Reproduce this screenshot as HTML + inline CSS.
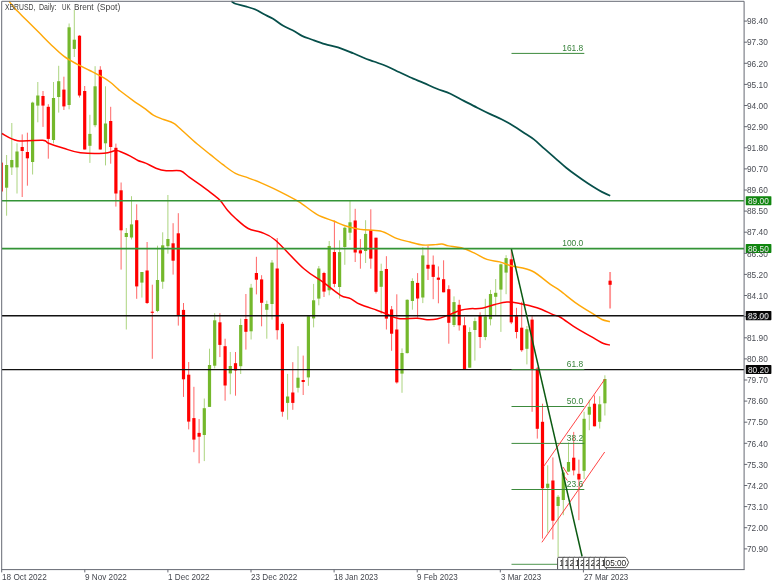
<!DOCTYPE html>
<html><head><meta charset="utf-8"><title>XBRUSD</title>
<style>
html,body{margin:0;padding:0;background:#fff;}
body{will-change:transform;width:780px;height:585px;position:relative;overflow:hidden;font-family:"Liberation Sans",sans-serif;}
svg{position:absolute;left:0;top:0;font-family:"Liberation Sans",sans-serif;}
.t{position:absolute;white-space:nowrap;font-size:8.7px;line-height:10px;color:#3a3c44;}
.yl{left:747.3px;transform:scaleX(0.955);transform-origin:0 0;color:#4a4d55;}
.fb{color:#37823a;font-size:9.3px;transform:scaleX(0.905);transform-origin:100% 0;}
.box{position:absolute;left:745.7px;width:25.7px;height:9px;border-radius:0.6px;}
.box span{position:absolute;left:2.4px;top:0.1px;color:#eaeaea;font-size:8.7px;line-height:10px;white-space:nowrap;transform:scaleX(0.955);transform-origin:0 0;}
</style></head><body>
<svg width="780" height="585" viewBox="0 0 780 585">
<defs><clipPath id="cl"><rect x="2.2" y="1.8" width="741.4" height="567.3"/></clipPath></defs>
<g clip-path="url(#cl)">
<line x1="1.4" y1="162.6" x2="1.4" y2="191.5" stroke="#ff0000" stroke-width="1" stroke-opacity="0.6"/>
<rect x="-0.2" y="162.6" width="3.2" height="28.9" fill="#ff0000"/>
<line x1="6.6" y1="155" x2="6.6" y2="215.7" stroke="#74b82c" stroke-width="1" stroke-opacity="0.6"/>
<rect x="5.0" y="165" width="3.2" height="22.7" fill="#74b82c"/>
<line x1="11.8" y1="123" x2="11.8" y2="175" stroke="#74b82c" stroke-width="1" stroke-opacity="0.6"/>
<rect x="10.2" y="160" width="3.2" height="7.4" fill="#74b82c"/>
<line x1="17.0" y1="143.3" x2="17.0" y2="193.5" stroke="#74b82c" stroke-width="1" stroke-opacity="0.6"/>
<rect x="15.4" y="151.5" width="3.2" height="15.9" fill="#74b82c"/>
<line x1="22.2" y1="134.4" x2="22.2" y2="197" stroke="#ff0000" stroke-width="1" stroke-opacity="0.6"/>
<rect x="20.6" y="147" width="3.2" height="4.0" fill="#ff0000"/>
<line x1="27.4" y1="132.7" x2="27.4" y2="185.7" stroke="#ff0000" stroke-width="1" stroke-opacity="0.6"/>
<rect x="25.8" y="152" width="3.2" height="6.3" fill="#ff0000"/>
<line x1="32.6" y1="101.7" x2="32.6" y2="174.5" stroke="#74b82c" stroke-width="1" stroke-opacity="0.6"/>
<rect x="31.0" y="102.6" width="3.2" height="59.4" fill="#74b82c"/>
<line x1="37.8" y1="82" x2="37.8" y2="122.3" stroke="#74b82c" stroke-width="1" stroke-opacity="0.6"/>
<rect x="36.2" y="95.5" width="3.2" height="10.1" fill="#74b82c"/>
<line x1="43.0" y1="91" x2="43.0" y2="126.9" stroke="#ff0000" stroke-width="1" stroke-opacity="0.6"/>
<rect x="41.4" y="96" width="3.2" height="9.6" fill="#ff0000"/>
<line x1="48.3" y1="104.2" x2="48.3" y2="158.7" stroke="#ff0000" stroke-width="1" stroke-opacity="0.6"/>
<rect x="46.7" y="106.8" width="3.2" height="32.1" fill="#ff0000"/>
<line x1="53.5" y1="82" x2="53.5" y2="143.3" stroke="#74b82c" stroke-width="1" stroke-opacity="0.6"/>
<rect x="51.9" y="98" width="3.2" height="42.0" fill="#74b82c"/>
<line x1="58.7" y1="65.8" x2="58.7" y2="112.6" stroke="#74b82c" stroke-width="1" stroke-opacity="0.6"/>
<rect x="57.1" y="81.2" width="3.2" height="15.8" fill="#74b82c"/>
<line x1="63.9" y1="76.7" x2="63.9" y2="110" stroke="#ff0000" stroke-width="1" stroke-opacity="0.6"/>
<rect x="62.3" y="89.6" width="3.2" height="16.8" fill="#ff0000"/>
<line x1="69.1" y1="23.5" x2="69.1" y2="109.3" stroke="#74b82c" stroke-width="1" stroke-opacity="0.6"/>
<rect x="67.5" y="27.3" width="3.2" height="77.7" fill="#74b82c"/>
<line x1="74.3" y1="10" x2="74.3" y2="57" stroke="#74b82c" stroke-width="1" stroke-opacity="0.6"/>
<rect x="72.7" y="39.7" width="3.2" height="9.2" fill="#74b82c"/>
<line x1="79.5" y1="35.2" x2="79.5" y2="97.5" stroke="#ff0000" stroke-width="1" stroke-opacity="0.6"/>
<rect x="77.9" y="35.7" width="3.2" height="59.8" fill="#ff0000"/>
<line x1="84.7" y1="86" x2="84.7" y2="149.5" stroke="#ff0000" stroke-width="1" stroke-opacity="0.6"/>
<rect x="83.1" y="91" width="3.2" height="58.5" fill="#ff0000"/>
<line x1="89.9" y1="114.8" x2="89.9" y2="162.9" stroke="#74b82c" stroke-width="1" stroke-opacity="0.6"/>
<rect x="88.3" y="133.9" width="3.2" height="11.9" fill="#74b82c"/>
<line x1="95.1" y1="66.2" x2="95.1" y2="127.2" stroke="#74b82c" stroke-width="1" stroke-opacity="0.6"/>
<rect x="93.5" y="86.3" width="3.2" height="38.9" fill="#74b82c"/>
<line x1="100.3" y1="66.2" x2="100.3" y2="149.5" stroke="#ff0000" stroke-width="1" stroke-opacity="0.6"/>
<rect x="98.7" y="69.8" width="3.2" height="79.7" fill="#ff0000"/>
<line x1="105.5" y1="86.3" x2="105.5" y2="165.4" stroke="#74b82c" stroke-width="1" stroke-opacity="0.6"/>
<rect x="103.9" y="123.5" width="3.2" height="19.8" fill="#74b82c"/>
<line x1="110.7" y1="106.8" x2="110.7" y2="163.7" stroke="#ff0000" stroke-width="1" stroke-opacity="0.6"/>
<rect x="109.1" y="121" width="3.2" height="26.0" fill="#ff0000"/>
<line x1="115.9" y1="143.6" x2="115.9" y2="206.6" stroke="#ff0000" stroke-width="1" stroke-opacity="0.6"/>
<rect x="114.3" y="147.8" width="3.2" height="45.7" fill="#ff0000"/>
<line x1="121.1" y1="182.5" x2="121.1" y2="269.6" stroke="#ff0000" stroke-width="1" stroke-opacity="0.6"/>
<rect x="119.5" y="190.3" width="3.2" height="40.0" fill="#ff0000"/>
<line x1="126.3" y1="228" x2="126.3" y2="329.5" stroke="#74b82c" stroke-width="1" stroke-opacity="0.6"/>
<rect x="124.7" y="233" width="3.2" height="4.0" fill="#74b82c"/>
<line x1="131.5" y1="196.2" x2="131.5" y2="239.5" stroke="#74b82c" stroke-width="1" stroke-opacity="0.6"/>
<rect x="129.9" y="224.4" width="3.2" height="13.1" fill="#74b82c"/>
<line x1="136.7" y1="204.3" x2="136.7" y2="298.8" stroke="#ff0000" stroke-width="1" stroke-opacity="0.6"/>
<rect x="135.1" y="220.2" width="3.2" height="66.2" fill="#ff0000"/>
<line x1="141.9" y1="272" x2="141.9" y2="297.6" stroke="#74b82c" stroke-width="1" stroke-opacity="0.6"/>
<rect x="140.3" y="272" width="3.2" height="10.6" fill="#74b82c"/>
<line x1="147.1" y1="242" x2="147.1" y2="304" stroke="#ff0000" stroke-width="1" stroke-opacity="0.6"/>
<rect x="145.5" y="270.5" width="3.2" height="32.5" fill="#ff0000"/>
<line x1="152.3" y1="284.7" x2="152.3" y2="358.8" stroke="#ff0000" stroke-width="1" stroke-opacity="0.6"/>
<rect x="150.7" y="311.7" width="3.2" height="1.1" fill="#ff0000"/>
<line x1="157.5" y1="245.7" x2="157.5" y2="312.2" stroke="#74b82c" stroke-width="1" stroke-opacity="0.6"/>
<rect x="155.9" y="280" width="3.2" height="31.0" fill="#74b82c"/>
<line x1="162.7" y1="232.3" x2="162.7" y2="288.8" stroke="#74b82c" stroke-width="1" stroke-opacity="0.6"/>
<rect x="161.1" y="245.3" width="3.2" height="36.4" fill="#74b82c"/>
<line x1="167.9" y1="195" x2="167.9" y2="253.7" stroke="#74b82c" stroke-width="1" stroke-opacity="0.6"/>
<rect x="166.3" y="239" width="3.2" height="7.2" fill="#74b82c"/>
<line x1="173.1" y1="223.2" x2="173.1" y2="274.6" stroke="#ff0000" stroke-width="1" stroke-opacity="0.6"/>
<rect x="171.5" y="243.3" width="3.2" height="17.4" fill="#ff0000"/>
<line x1="178.3" y1="213.2" x2="178.3" y2="325.6" stroke="#ff0000" stroke-width="1" stroke-opacity="0.6"/>
<rect x="176.7" y="233.3" width="3.2" height="81.9" fill="#ff0000"/>
<line x1="183.5" y1="303" x2="183.5" y2="396.9" stroke="#ff0000" stroke-width="1" stroke-opacity="0.6"/>
<rect x="181.9" y="309.9" width="3.2" height="69.4" fill="#ff0000"/>
<line x1="188.7" y1="362" x2="188.7" y2="429.4" stroke="#ff0000" stroke-width="1" stroke-opacity="0.6"/>
<rect x="187.1" y="374.7" width="3.2" height="46.9" fill="#ff0000"/>
<line x1="193.9" y1="386.8" x2="193.9" y2="452.2" stroke="#ff0000" stroke-width="1" stroke-opacity="0.6"/>
<rect x="192.3" y="418.1" width="3.2" height="21.5" fill="#ff0000"/>
<line x1="199.1" y1="419" x2="199.1" y2="463.3" stroke="#ff0000" stroke-width="1" stroke-opacity="0.6"/>
<rect x="197.5" y="432.9" width="3.2" height="3.8" fill="#ff0000"/>
<line x1="204.3" y1="398.5" x2="204.3" y2="461.1" stroke="#74b82c" stroke-width="1" stroke-opacity="0.6"/>
<rect x="202.7" y="408.2" width="3.2" height="26.8" fill="#74b82c"/>
<line x1="209.5" y1="348.7" x2="209.5" y2="407" stroke="#74b82c" stroke-width="1" stroke-opacity="0.6"/>
<rect x="207.9" y="365" width="3.2" height="41.9" fill="#74b82c"/>
<line x1="214.7" y1="313.2" x2="214.7" y2="368.4" stroke="#74b82c" stroke-width="1" stroke-opacity="0.6"/>
<rect x="213.1" y="320.3" width="3.2" height="45.4" fill="#74b82c"/>
<line x1="219.9" y1="313.2" x2="219.9" y2="357.1" stroke="#ff0000" stroke-width="1" stroke-opacity="0.6"/>
<rect x="218.3" y="322.3" width="3.2" height="22.6" fill="#ff0000"/>
<line x1="225.1" y1="338.7" x2="225.1" y2="400.7" stroke="#ff0000" stroke-width="1" stroke-opacity="0.6"/>
<rect x="223.5" y="346.2" width="3.2" height="39.3" fill="#ff0000"/>
<line x1="230.3" y1="352" x2="230.3" y2="394.3" stroke="#74b82c" stroke-width="1" stroke-opacity="0.6"/>
<rect x="228.7" y="366" width="3.2" height="7.4" fill="#74b82c"/>
<line x1="235.5" y1="352" x2="235.5" y2="395.7" stroke="#ff0000" stroke-width="1" stroke-opacity="0.6"/>
<rect x="233.9" y="363.2" width="3.2" height="7.2" fill="#ff0000"/>
<line x1="240.7" y1="318.6" x2="240.7" y2="374" stroke="#74b82c" stroke-width="1" stroke-opacity="0.6"/>
<rect x="239.1" y="325" width="3.2" height="41.2" fill="#74b82c"/>
<line x1="245.9" y1="294" x2="245.9" y2="349.6" stroke="#ff0000" stroke-width="1" stroke-opacity="0.6"/>
<rect x="244.3" y="319" width="3.2" height="12.8" fill="#ff0000"/>
<line x1="251.1" y1="283.9" x2="251.1" y2="339.5" stroke="#74b82c" stroke-width="1" stroke-opacity="0.6"/>
<rect x="249.5" y="287.7" width="3.2" height="43.6" fill="#74b82c"/>
<line x1="256.4" y1="256.8" x2="256.4" y2="294.4" stroke="#ff0000" stroke-width="1" stroke-opacity="0.6"/>
<rect x="254.8" y="273" width="3.2" height="6.7" fill="#ff0000"/>
<line x1="261.6" y1="275.2" x2="261.6" y2="326.3" stroke="#ff0000" stroke-width="1" stroke-opacity="0.6"/>
<rect x="260.0" y="279.4" width="3.2" height="23.4" fill="#ff0000"/>
<line x1="266.8" y1="300.6" x2="266.8" y2="338.7" stroke="#74b82c" stroke-width="1" stroke-opacity="0.6"/>
<rect x="265.2" y="304" width="3.2" height="5.8" fill="#74b82c"/>
<line x1="272.0" y1="260.1" x2="272.0" y2="319.6" stroke="#74b82c" stroke-width="1" stroke-opacity="0.6"/>
<rect x="270.4" y="262.6" width="3.2" height="41.4" fill="#74b82c"/>
<line x1="277.2" y1="238" x2="277.2" y2="339.5" stroke="#ff0000" stroke-width="1" stroke-opacity="0.6"/>
<rect x="275.6" y="268.5" width="3.2" height="61.7" fill="#ff0000"/>
<line x1="282.4" y1="322" x2="282.4" y2="416.7" stroke="#ff0000" stroke-width="1" stroke-opacity="0.6"/>
<rect x="280.8" y="323.8" width="3.2" height="87.9" fill="#ff0000"/>
<line x1="287.6" y1="373.9" x2="287.6" y2="419.7" stroke="#74b82c" stroke-width="1" stroke-opacity="0.6"/>
<rect x="286.0" y="396.5" width="3.2" height="6.4" fill="#74b82c"/>
<line x1="292.8" y1="362.2" x2="292.8" y2="409.8" stroke="#ff0000" stroke-width="1" stroke-opacity="0.6"/>
<rect x="291.2" y="392.5" width="3.2" height="10.4" fill="#ff0000"/>
<line x1="298.0" y1="346.2" x2="298.0" y2="392.5" stroke="#74b82c" stroke-width="1" stroke-opacity="0.6"/>
<rect x="296.4" y="377.7" width="3.2" height="10.1" fill="#74b82c"/>
<line x1="303.2" y1="355.6" x2="303.2" y2="395" stroke="#ff0000" stroke-width="1" stroke-opacity="0.6"/>
<rect x="301.6" y="380" width="3.2" height="2.0" fill="#ff0000"/>
<line x1="308.4" y1="316.2" x2="308.4" y2="385.8" stroke="#74b82c" stroke-width="1" stroke-opacity="0.6"/>
<rect x="306.8" y="316.2" width="3.2" height="61.2" fill="#74b82c"/>
<line x1="313.6" y1="283.9" x2="313.6" y2="327.4" stroke="#74b82c" stroke-width="1" stroke-opacity="0.6"/>
<rect x="312.0" y="300.3" width="3.2" height="18.1" fill="#74b82c"/>
<line x1="318.8" y1="266" x2="318.8" y2="305.3" stroke="#74b82c" stroke-width="1" stroke-opacity="0.6"/>
<rect x="317.2" y="268.5" width="3.2" height="30.1" fill="#74b82c"/>
<line x1="324.0" y1="271.8" x2="324.0" y2="297" stroke="#ff0000" stroke-width="1" stroke-opacity="0.6"/>
<rect x="322.4" y="273" width="3.2" height="18.6" fill="#ff0000"/>
<line x1="329.2" y1="241" x2="329.2" y2="295.3" stroke="#74b82c" stroke-width="1" stroke-opacity="0.6"/>
<rect x="327.6" y="246" width="3.2" height="44.3" fill="#74b82c"/>
<line x1="334.4" y1="220.5" x2="334.4" y2="287.2" stroke="#ff0000" stroke-width="1" stroke-opacity="0.6"/>
<rect x="332.8" y="252" width="3.2" height="31.9" fill="#ff0000"/>
<line x1="339.6" y1="240.3" x2="339.6" y2="298.6" stroke="#74b82c" stroke-width="1" stroke-opacity="0.6"/>
<rect x="338.0" y="252.1" width="3.2" height="34.9" fill="#74b82c"/>
<line x1="344.8" y1="226.5" x2="344.8" y2="264.8" stroke="#74b82c" stroke-width="1" stroke-opacity="0.6"/>
<rect x="343.2" y="227.7" width="3.2" height="19.3" fill="#74b82c"/>
<line x1="350.0" y1="200.9" x2="350.0" y2="240" stroke="#74b82c" stroke-width="1" stroke-opacity="0.6"/>
<rect x="348.4" y="222.3" width="3.2" height="10.4" fill="#74b82c"/>
<line x1="355.2" y1="208.8" x2="355.2" y2="262" stroke="#ff0000" stroke-width="1" stroke-opacity="0.6"/>
<rect x="353.6" y="220.5" width="3.2" height="32.0" fill="#ff0000"/>
<line x1="360.4" y1="239.1" x2="360.4" y2="268.7" stroke="#ff0000" stroke-width="1" stroke-opacity="0.6"/>
<rect x="358.8" y="250.3" width="3.2" height="3.1" fill="#ff0000"/>
<line x1="365.6" y1="220.2" x2="365.6" y2="263" stroke="#74b82c" stroke-width="1" stroke-opacity="0.6"/>
<rect x="364.0" y="233.9" width="3.2" height="17.1" fill="#74b82c"/>
<line x1="370.8" y1="209.3" x2="370.8" y2="268.7" stroke="#ff0000" stroke-width="1" stroke-opacity="0.6"/>
<rect x="369.2" y="230.2" width="3.2" height="28.4" fill="#ff0000"/>
<line x1="376.0" y1="237.7" x2="376.0" y2="293.5" stroke="#ff0000" stroke-width="1" stroke-opacity="0.6"/>
<rect x="374.4" y="237.7" width="3.2" height="54.1" fill="#ff0000"/>
<line x1="381.2" y1="263.7" x2="381.2" y2="313.9" stroke="#74b82c" stroke-width="1" stroke-opacity="0.6"/>
<rect x="379.6" y="270.9" width="3.2" height="15.9" fill="#74b82c"/>
<line x1="386.4" y1="256.2" x2="386.4" y2="329.5" stroke="#ff0000" stroke-width="1" stroke-opacity="0.6"/>
<rect x="384.8" y="269" width="3.2" height="49.6" fill="#ff0000"/>
<line x1="391.6" y1="306" x2="391.6" y2="350.8" stroke="#ff0000" stroke-width="1" stroke-opacity="0.6"/>
<rect x="390.0" y="309.4" width="3.2" height="24.3" fill="#ff0000"/>
<line x1="396.8" y1="294.3" x2="396.8" y2="383.6" stroke="#ff0000" stroke-width="1" stroke-opacity="0.6"/>
<rect x="395.2" y="329.5" width="3.2" height="52.9" fill="#ff0000"/>
<line x1="402.0" y1="348.4" x2="402.0" y2="392.8" stroke="#74b82c" stroke-width="1" stroke-opacity="0.6"/>
<rect x="400.4" y="353" width="3.2" height="20.6" fill="#74b82c"/>
<line x1="407.2" y1="299.3" x2="407.2" y2="353.5" stroke="#74b82c" stroke-width="1" stroke-opacity="0.6"/>
<rect x="405.6" y="299.8" width="3.2" height="53.3" fill="#74b82c"/>
<line x1="412.4" y1="278.3" x2="412.4" y2="309.7" stroke="#74b82c" stroke-width="1" stroke-opacity="0.6"/>
<rect x="410.8" y="281" width="3.2" height="20.0" fill="#74b82c"/>
<line x1="417.6" y1="273.1" x2="417.6" y2="317.7" stroke="#ff0000" stroke-width="1" stroke-opacity="0.6"/>
<rect x="416.0" y="282.9" width="3.2" height="15.6" fill="#ff0000"/>
<line x1="422.8" y1="247.1" x2="422.8" y2="303.1" stroke="#74b82c" stroke-width="1" stroke-opacity="0.6"/>
<rect x="421.2" y="255.4" width="3.2" height="42.1" fill="#74b82c"/>
<line x1="428.0" y1="246" x2="428.0" y2="280" stroke="#ff0000" stroke-width="1" stroke-opacity="0.6"/>
<rect x="426.4" y="264.8" width="3.2" height="3.9" fill="#ff0000"/>
<line x1="433.2" y1="255.5" x2="433.2" y2="299.2" stroke="#ff0000" stroke-width="1" stroke-opacity="0.6"/>
<rect x="431.6" y="264.7" width="3.2" height="12.2" fill="#ff0000"/>
<line x1="438.4" y1="266.4" x2="438.4" y2="303.3" stroke="#ff0000" stroke-width="1" stroke-opacity="0.6"/>
<rect x="436.8" y="277.6" width="3.2" height="2.2" fill="#ff0000"/>
<line x1="443.6" y1="260.3" x2="443.6" y2="292.3" stroke="#ff0000" stroke-width="1" stroke-opacity="0.6"/>
<rect x="442.0" y="279.2" width="3.2" height="13.1" fill="#ff0000"/>
<line x1="448.8" y1="285.3" x2="448.8" y2="343.7" stroke="#ff0000" stroke-width="1" stroke-opacity="0.6"/>
<rect x="447.2" y="289.2" width="3.2" height="33.6" fill="#ff0000"/>
<line x1="454.0" y1="296.4" x2="454.0" y2="327" stroke="#74b82c" stroke-width="1" stroke-opacity="0.6"/>
<rect x="452.4" y="302.1" width="3.2" height="22.9" fill="#74b82c"/>
<line x1="459.2" y1="299.8" x2="459.2" y2="330.6" stroke="#ff0000" stroke-width="1" stroke-opacity="0.6"/>
<rect x="457.6" y="304.8" width="3.2" height="20.5" fill="#ff0000"/>
<line x1="464.5" y1="316.9" x2="464.5" y2="369.7" stroke="#ff0000" stroke-width="1" stroke-opacity="0.6"/>
<rect x="462.9" y="325.3" width="3.2" height="44.4" fill="#ff0000"/>
<line x1="469.7" y1="327.3" x2="469.7" y2="367.7" stroke="#74b82c" stroke-width="1" stroke-opacity="0.6"/>
<rect x="468.1" y="332" width="3.2" height="35.7" fill="#74b82c"/>
<line x1="474.9" y1="317.6" x2="474.9" y2="360.6" stroke="#74b82c" stroke-width="1" stroke-opacity="0.6"/>
<rect x="473.3" y="321.1" width="3.2" height="8.9" fill="#74b82c"/>
<line x1="480.1" y1="312.3" x2="480.1" y2="348.1" stroke="#ff0000" stroke-width="1" stroke-opacity="0.6"/>
<rect x="478.5" y="316" width="3.2" height="21.0" fill="#ff0000"/>
<line x1="485.3" y1="298.8" x2="485.3" y2="340.2" stroke="#74b82c" stroke-width="1" stroke-opacity="0.6"/>
<rect x="483.7" y="316.4" width="3.2" height="20.6" fill="#74b82c"/>
<line x1="490.5" y1="289.9" x2="490.5" y2="325.4" stroke="#74b82c" stroke-width="1" stroke-opacity="0.6"/>
<rect x="488.9" y="294" width="3.2" height="25.2" fill="#74b82c"/>
<line x1="495.7" y1="279" x2="495.7" y2="315.4" stroke="#74b82c" stroke-width="1" stroke-opacity="0.6"/>
<rect x="494.1" y="292.8" width="3.2" height="4.0" fill="#74b82c"/>
<line x1="500.9" y1="263.5" x2="500.9" y2="331.9" stroke="#74b82c" stroke-width="1" stroke-opacity="0.6"/>
<rect x="499.3" y="264.3" width="3.2" height="25.3" fill="#74b82c"/>
<line x1="506.1" y1="255.2" x2="506.1" y2="294.2" stroke="#74b82c" stroke-width="1" stroke-opacity="0.6"/>
<rect x="504.5" y="258.1" width="3.2" height="14.5" fill="#74b82c"/>
<line x1="511.3" y1="250" x2="511.3" y2="324.1" stroke="#ff0000" stroke-width="1" stroke-opacity="0.6"/>
<rect x="509.7" y="259.3" width="3.2" height="63.1" fill="#ff0000"/>
<line x1="516.5" y1="307.8" x2="516.5" y2="338.4" stroke="#ff0000" stroke-width="1" stroke-opacity="0.6"/>
<rect x="514.9" y="316.2" width="3.2" height="15.8" fill="#ff0000"/>
<line x1="521.7" y1="301.8" x2="521.7" y2="351.8" stroke="#ff0000" stroke-width="1" stroke-opacity="0.6"/>
<rect x="520.1" y="327.7" width="3.2" height="22.5" fill="#ff0000"/>
<line x1="526.9" y1="326" x2="526.9" y2="364.4" stroke="#74b82c" stroke-width="1" stroke-opacity="0.6"/>
<rect x="525.3" y="329.2" width="3.2" height="19.6" fill="#74b82c"/>
<line x1="532.1" y1="316.2" x2="532.1" y2="411.8" stroke="#ff0000" stroke-width="1" stroke-opacity="0.6"/>
<rect x="530.5" y="319.6" width="3.2" height="49.8" fill="#ff0000"/>
<line x1="537.3" y1="366.9" x2="537.3" y2="438.6" stroke="#ff0000" stroke-width="1" stroke-opacity="0.6"/>
<rect x="535.7" y="368.6" width="3.2" height="60.2" fill="#ff0000"/>
<line x1="542.5" y1="403.7" x2="542.5" y2="538.6" stroke="#ff0000" stroke-width="1" stroke-opacity="0.6"/>
<rect x="540.9" y="421.8" width="3.2" height="66.5" fill="#ff0000"/>
<line x1="547.7" y1="465.3" x2="547.7" y2="532.8" stroke="#74b82c" stroke-width="1" stroke-opacity="0.6"/>
<rect x="546.1" y="483.7" width="3.2" height="4.2" fill="#74b82c"/>
<line x1="552.9" y1="457.4" x2="552.9" y2="539.5" stroke="#ff0000" stroke-width="1" stroke-opacity="0.6"/>
<rect x="551.3" y="480.5" width="3.2" height="40.2" fill="#ff0000"/>
<line x1="558.1" y1="495" x2="558.1" y2="557" stroke="#74b82c" stroke-width="1" stroke-opacity="0.6"/>
<rect x="556.5" y="496.8" width="3.2" height="9.2" fill="#74b82c"/>
<line x1="563.3" y1="470" x2="563.3" y2="515.2" stroke="#74b82c" stroke-width="1" stroke-opacity="0.6"/>
<rect x="561.7" y="472.5" width="3.2" height="27.5" fill="#74b82c"/>
<line x1="568.5" y1="442.4" x2="568.5" y2="472" stroke="#74b82c" stroke-width="1" stroke-opacity="0.6"/>
<rect x="566.9" y="462" width="3.2" height="9.6" fill="#74b82c"/>
<line x1="573.7" y1="431.9" x2="573.7" y2="475.4" stroke="#ff0000" stroke-width="1" stroke-opacity="0.6"/>
<rect x="572.1" y="457.7" width="3.2" height="12.7" fill="#ff0000"/>
<line x1="578.9" y1="459.6" x2="578.9" y2="520.2" stroke="#ff0000" stroke-width="1" stroke-opacity="0.6"/>
<rect x="577.3" y="473.8" width="3.2" height="5.7" fill="#ff0000"/>
<line x1="584.1" y1="411.7" x2="584.1" y2="479" stroke="#74b82c" stroke-width="1" stroke-opacity="0.6"/>
<rect x="582.5" y="418.8" width="3.2" height="52.0" fill="#74b82c"/>
<line x1="589.3" y1="399.6" x2="589.3" y2="430.2" stroke="#74b82c" stroke-width="1" stroke-opacity="0.6"/>
<rect x="587.7" y="406.8" width="3.2" height="7.9" fill="#74b82c"/>
<line x1="594.5" y1="395.4" x2="594.5" y2="426.3" stroke="#ff0000" stroke-width="1" stroke-opacity="0.6"/>
<rect x="592.9" y="403.7" width="3.2" height="22.6" fill="#ff0000"/>
<line x1="599.7" y1="396.2" x2="599.7" y2="428.5" stroke="#74b82c" stroke-width="1" stroke-opacity="0.6"/>
<rect x="598.1" y="404.3" width="3.2" height="17.5" fill="#74b82c"/>
<line x1="604.9" y1="375.3" x2="604.9" y2="415.5" stroke="#74b82c" stroke-width="1" stroke-opacity="0.6"/>
<rect x="603.3" y="379" width="3.2" height="24.3" fill="#74b82c"/>
<line x1="610.1" y1="272.1" x2="610.1" y2="308.6" stroke="#ff0000" stroke-width="1.9" stroke-opacity="0.42"/>
<rect x="608.5" y="280.7" width="3.2" height="4.1" fill="#ff0000"/>
</g>
<path d="M231.5 1.3 C232.2 1.7 233.1 2.9 235.4 3.8 C237.8 4.7 242.2 5.4 245.6 6.4 C249.0 7.4 252.9 8.4 255.9 9.7 C258.9 11.0 260.8 12.6 263.6 14.1 C266.4 15.6 269.4 16.6 272.6 18.5 C275.8 20.4 279.2 23.5 282.8 25.6 C286.4 27.7 291.2 29.6 294.4 31.3 C297.6 33.0 299.0 34.5 302.0 35.9 C305.0 37.3 308.4 38.3 312.3 39.7 C316.2 41.1 320.8 42.8 325.1 44.1 C329.4 45.4 333.3 45.9 338.0 47.4 C342.7 48.9 349.0 51.6 353.3 53.3 C357.6 55.0 360.2 56.3 363.6 57.7 C367.0 59.1 370.0 60.1 373.8 61.5 C377.6 62.9 382.4 64.4 386.7 66.2 C391.0 68.0 395.6 70.5 399.5 72.3 C403.4 74.1 406.0 75.5 410.0 77.3 C414.0 79.1 419.0 81.0 423.5 82.9 C428.0 84.8 432.4 87.0 436.9 88.8 C441.4 90.6 445.9 91.7 450.4 93.7 C454.9 95.7 459.4 98.6 463.9 100.9 C468.4 103.2 472.8 105.5 477.3 107.7 C481.8 110.0 486.8 112.5 490.8 114.4 C494.8 116.3 497.9 117.4 501.5 119.2 C505.1 121.0 508.7 123.0 512.3 125.2 C515.9 127.4 519.5 129.8 523.1 132.2 C526.7 134.6 530.3 136.6 533.9 139.4 C537.5 142.2 541.0 145.8 544.6 148.9 C548.2 152.1 551.8 155.2 555.4 158.3 C559.0 161.4 562.6 164.8 566.2 167.7 C569.8 170.6 573.3 173.2 576.9 175.8 C580.5 178.4 584.1 180.9 587.7 183.3 C591.3 185.7 595.6 188.3 598.5 190.0 C601.4 191.7 603.0 192.5 605.0 193.4 C607.0 194.3 609.3 195.3 610.2 195.7" fill="none" stroke="#064f4a" stroke-width="1.75" stroke-linejoin="round"/>
<path d="M9.0 1.3 C10.1 2.6 12.6 6.0 15.4 9.0 C18.2 12.0 21.8 15.4 25.6 19.2 C29.5 23.0 34.2 27.7 38.5 32.0 C42.8 36.3 47.0 40.8 51.3 44.9 C55.6 49.0 59.8 53.2 64.1 56.4 C68.4 59.6 72.6 61.7 76.9 64.1 C81.2 66.4 85.4 68.3 89.7 70.5 C94.0 72.7 99.2 75.3 102.6 77.2 C106.0 79.1 107.6 80.2 110.0 82.0 C112.4 83.8 115.5 86.8 117.2 88.3 C118.9 89.8 117.4 88.8 120.0 90.8 C122.6 92.8 128.5 97.2 132.8 100.3 C137.1 103.4 142.2 106.7 145.6 109.2 C149.0 111.7 150.3 113.4 153.3 115.1 C156.3 116.8 160.2 118.1 163.6 119.5 C167.0 120.9 170.4 121.2 173.8 123.3 C177.2 125.4 180.2 128.9 184.1 132.3 C187.9 135.7 192.6 140.2 196.9 143.8 C201.2 147.4 205.4 150.7 209.7 154.1 C214.0 157.5 218.3 161.2 222.6 164.4 C226.9 167.6 231.1 171.1 235.4 173.3 C239.7 175.6 243.9 176.3 248.2 177.9 C252.5 179.5 256.7 181.0 261.0 182.8 C265.3 184.6 269.5 186.6 273.8 188.7 C278.1 190.8 282.4 192.9 286.7 195.1 C291.0 197.3 294.5 198.9 299.5 202.1 C304.5 205.3 311.1 211.2 316.8 214.3 C322.5 217.5 329.0 219.2 333.5 221.0 C338.0 222.8 339.1 223.8 343.6 225.2 C348.1 226.6 354.2 228.4 360.3 229.4 C366.4 230.4 374.2 229.5 380.4 231.0 C386.5 232.5 392.3 236.8 397.2 238.6 C402.1 240.4 405.7 240.9 410.0 242.0 C414.3 243.1 418.5 244.6 422.8 245.0 C427.1 245.4 432.4 244.8 435.6 244.6 C438.8 244.4 439.9 243.8 442.0 244.0 C444.1 244.2 445.3 245.3 448.5 245.9 C451.7 246.5 457.0 246.6 461.3 247.8 C465.6 249.0 469.8 251.0 474.1 252.9 C478.4 254.8 482.6 257.9 486.9 259.4 C491.2 260.9 495.5 260.8 499.7 261.9 C503.9 263.0 506.5 264.5 511.9 266.0 C517.3 267.5 525.6 267.9 532.0 271.0 C538.4 274.1 545.7 281.1 550.4 284.4 C555.1 287.7 555.6 287.5 560.0 290.7 C564.4 293.9 571.2 299.7 576.8 303.6 C582.4 307.5 589.3 311.6 593.5 314.2 C597.7 316.8 599.2 318.2 601.9 319.5 C604.6 320.8 608.6 321.3 609.9 321.7" fill="none" stroke="#ffa808" stroke-width="1.45" stroke-linejoin="round"/>
<path d="M1.7 133.5 C4.4 134.7 10.8 139.6 17.6 140.7 C24.4 141.8 37.5 139.8 42.7 140.2 C47.9 140.6 45.1 142.0 48.6 143.3 C52.1 144.7 58.4 146.7 63.7 148.3 C69.0 149.9 73.7 152.0 80.4 152.8 C87.1 153.6 98.0 153.7 103.9 153.3 C109.8 152.9 112.9 150.9 115.6 150.6 C118.3 150.3 117.5 150.6 120.0 151.5 C122.5 152.4 127.3 154.7 130.3 156.2 C133.3 157.7 135.4 159.3 137.9 160.5 C140.4 161.7 142.6 161.8 145.6 163.1 C148.6 164.4 152.5 166.9 155.9 168.2 C159.3 169.5 162.1 170.4 166.2 170.8 C170.3 171.2 176.5 169.7 180.3 170.8 C184.1 171.9 185.6 174.6 189.2 177.2 C192.8 179.8 198.2 183.4 202.1 186.2 C205.9 189.0 209.3 191.5 212.3 193.8 C215.3 196.2 217.4 197.5 220.0 200.3 C222.6 203.1 225.1 207.5 227.7 210.5 C230.3 213.5 232.0 215.2 235.4 218.2 C238.8 221.2 243.9 226.2 248.2 228.5 C252.5 230.8 256.5 230.4 261.0 232.3 C265.5 234.2 268.1 234.0 275.2 240.0 C282.3 246.0 295.5 261.4 303.6 268.5 C311.7 275.6 317.7 278.2 323.8 282.7 C329.9 287.2 336.1 292.6 340.5 295.3 C344.9 298.0 347.2 297.1 350.5 298.6 C353.8 300.1 355.6 302.4 360.0 304.3 C364.4 306.2 372.3 308.6 376.8 310.2 C381.3 311.8 383.2 312.5 386.8 313.9 C390.4 315.3 393.5 317.9 398.5 318.6 C403.5 319.3 412.2 318.0 417.0 318.2 C421.8 318.4 423.7 319.6 427.0 319.7 C430.3 319.8 433.4 319.8 437.0 319.0 C440.6 318.2 444.9 316.4 448.8 314.9 C452.7 313.4 457.0 311.2 460.5 310.2 C464.0 309.2 466.5 309.0 470.0 308.7 C473.5 308.4 477.5 309.0 481.7 308.3 C485.9 307.6 490.9 305.6 495.1 304.5 C499.3 303.4 503.0 302.2 506.9 302.0 C510.8 301.8 513.6 302.3 518.6 303.3 C523.6 304.3 531.1 305.9 537.0 307.8 C542.9 309.7 550.0 313.4 553.8 314.9 C557.6 316.4 556.2 314.8 560.0 317.0 C563.8 319.2 571.2 324.9 576.8 328.4 C582.4 331.9 589.0 335.4 593.5 337.9 C598.0 340.4 600.8 342.3 603.5 343.5 C606.2 344.7 608.8 344.8 609.9 345.0" fill="none" stroke="#ff0000" stroke-width="1.5" stroke-linejoin="round"/>
<line x1="2" y1="200.8" x2="744" y2="200.8" stroke="#339436" stroke-width="1.55"/>
<line x1="2" y1="248.6" x2="744" y2="248.6" stroke="#339436" stroke-width="1.55"/>
<line x1="2" y1="315.7" x2="744" y2="315.7" stroke="#111" stroke-width="1.4"/>
<line x1="2" y1="369.6" x2="744" y2="369.6" stroke="#111" stroke-width="1.4"/>
<line x1="511.5" y1="53.4" x2="584.3" y2="53.4" stroke="#3c8a3c" stroke-width="1"/>
<line x1="511.5" y1="369.6" x2="584.3" y2="369.6" stroke="#3c8a3c" stroke-width="1"/>
<line x1="511.5" y1="406.5" x2="584.3" y2="406.5" stroke="#3c8a3c" stroke-width="1"/>
<line x1="511.5" y1="443.4" x2="584.3" y2="443.4" stroke="#3c8a3c" stroke-width="1"/>
<line x1="511.5" y1="489.5" x2="584.3" y2="489.5" stroke="#3c8a3c" stroke-width="1"/>
<line x1="511.5" y1="564.3" x2="557.5" y2="564.3" stroke="#3c8a3c" stroke-width="0.9"/>
<line x1="543.6" y1="466.5" x2="604.9" y2="379.1" stroke="#ff3030" stroke-width="0.9"/>
<line x1="541.9" y1="542.3" x2="604.7" y2="452" stroke="#ff3030" stroke-width="0.9"/>
<line x1="563" y1="467" x2="568.2" y2="475" stroke="#ff3030" stroke-width="0.9"/>
<line x1="563" y1="474.6" x2="567.4" y2="480.6" stroke="#ff3030" stroke-width="0.9"/>
<line x1="511.4" y1="249.2" x2="582.1" y2="556.5" stroke="#0b5a12" stroke-width="1.5"/>
<path d="M557.6 569.6 V558.5 Q557.6 557.3 558.8 557.3 H564.6 V569.6" fill="#fff" stroke="#4a4a4a" stroke-width="1"/>
<text x="559.2" y="566.3" font-size="8.7" fill="#222">1</text>
<path d="M562.8 569.6 V558.5 Q562.8 557.3 564.0 557.3 H569.8 V569.6" fill="#fff" stroke="#4a4a4a" stroke-width="1"/>
<text x="564.4" y="566.3" font-size="8.7" fill="#222">1</text>
<path d="M568.0 569.6 V558.5 Q568.0 557.3 569.2 557.3 H575.0 V569.6" fill="#fff" stroke="#4a4a4a" stroke-width="1"/>
<text x="569.6" y="566.3" font-size="8.7" fill="#222">2</text>
<path d="M573.3 569.6 V558.5 Q573.3 557.3 574.5 557.3 H580.3 V569.6" fill="#fff" stroke="#4a4a4a" stroke-width="1"/>
<text x="574.9" y="566.3" font-size="8.7" fill="#222">1</text>
<path d="M578.5 569.6 V558.5 Q578.5 557.3 579.7 557.3 H585.5 V569.6" fill="#fff" stroke="#4a4a4a" stroke-width="1"/>
<text x="580.1" y="566.3" font-size="8.7" fill="#222">2</text>
<path d="M583.7 569.6 V558.5 Q583.7 557.3 584.9 557.3 H590.7 V569.6" fill="#fff" stroke="#4a4a4a" stroke-width="1"/>
<text x="585.3" y="566.3" font-size="8.7" fill="#222">2</text>
<path d="M588.9 569.6 V558.5 Q588.9 557.3 590.1 557.3 H595.9 V569.6" fill="#fff" stroke="#4a4a4a" stroke-width="1"/>
<text x="590.5" y="566.3" font-size="8.7" fill="#222">2</text>
<path d="M594.1 569.6 V558.5 Q594.1 557.3 595.3 557.3 H601.1 V569.6" fill="#fff" stroke="#4a4a4a" stroke-width="1"/>
<text x="595.7" y="566.3" font-size="8.7" fill="#222">2</text>
<path d="M599.4 569.6 V558.5 Q599.4 557.3 600.6 557.3 H606.4 V569.6" fill="#fff" stroke="#4a4a4a" stroke-width="1"/>
<text x="601.0" y="566.3" font-size="8.7" fill="#222">1</text>
<path d="M605.8 557.3 H624.8 Q626 557.3 626.6 558.3 L628.6 562.4 L626.6 566.6 Q626 567.6 624.8 567.6 H605.8 Q604.6 567.6 604.6 566.4 V558.5 Q604.6 557.3 605.8 557.3 Z" fill="#fff" stroke="#4a4a4a" stroke-width="1"/>
<text x="605.6" y="566.3" font-size="8.7" fill="#222" textLength="20.6" lengthAdjust="spacingAndGlyphs">05:00</text>
<path d="M1.7 569.6 V1.3 H744.1 V569.6" fill="none" stroke="#666973" stroke-width="1"/>
<line x1="1.2" y1="569.6" x2="744.6" y2="569.6" stroke="#666973" stroke-width="1"/>
<line x1="1.7" y1="569.6" x2="1.7" y2="572.4" stroke="#666973" stroke-width="1"/>
<line x1="84.8" y1="569.6" x2="84.8" y2="572.4" stroke="#666973" stroke-width="1"/>
<line x1="167.9" y1="569.6" x2="167.9" y2="572.4" stroke="#666973" stroke-width="1"/>
<line x1="251.0" y1="569.6" x2="251.0" y2="572.4" stroke="#666973" stroke-width="1"/>
<line x1="334.1" y1="569.6" x2="334.1" y2="572.4" stroke="#666973" stroke-width="1"/>
<line x1="417.2" y1="569.6" x2="417.2" y2="572.4" stroke="#666973" stroke-width="1"/>
<line x1="500.3" y1="569.6" x2="500.3" y2="572.4" stroke="#666973" stroke-width="1"/>
<line x1="583.4" y1="569.6" x2="583.4" y2="572.4" stroke="#666973" stroke-width="1"/>
<line x1="744" y1="21.1" x2="747.3" y2="21.1" stroke="#666973" stroke-width="1"/>
<line x1="744" y1="42.2" x2="747.3" y2="42.2" stroke="#666973" stroke-width="1"/>
<line x1="744" y1="63.3" x2="747.3" y2="63.3" stroke="#666973" stroke-width="1"/>
<line x1="744" y1="84.4" x2="747.3" y2="84.4" stroke="#666973" stroke-width="1"/>
<line x1="744" y1="105.5" x2="747.3" y2="105.5" stroke="#666973" stroke-width="1"/>
<line x1="744" y1="126.7" x2="747.3" y2="126.7" stroke="#666973" stroke-width="1"/>
<line x1="744" y1="147.8" x2="747.3" y2="147.8" stroke="#666973" stroke-width="1"/>
<line x1="744" y1="168.9" x2="747.3" y2="168.9" stroke="#666973" stroke-width="1"/>
<line x1="744" y1="190.0" x2="747.3" y2="190.0" stroke="#666973" stroke-width="1"/>
<line x1="744" y1="211.1" x2="747.3" y2="211.1" stroke="#666973" stroke-width="1"/>
<line x1="744" y1="232.2" x2="747.3" y2="232.2" stroke="#666973" stroke-width="1"/>
<line x1="744" y1="253.3" x2="747.3" y2="253.3" stroke="#666973" stroke-width="1"/>
<line x1="744" y1="274.4" x2="747.3" y2="274.4" stroke="#666973" stroke-width="1"/>
<line x1="744" y1="295.5" x2="747.3" y2="295.5" stroke="#666973" stroke-width="1"/>
<line x1="744" y1="316.6" x2="747.3" y2="316.6" stroke="#666973" stroke-width="1"/>
<line x1="744" y1="337.8" x2="747.3" y2="337.8" stroke="#666973" stroke-width="1"/>
<line x1="744" y1="358.9" x2="747.3" y2="358.9" stroke="#666973" stroke-width="1"/>
<line x1="744" y1="380.0" x2="747.3" y2="380.0" stroke="#666973" stroke-width="1"/>
<line x1="744" y1="401.1" x2="747.3" y2="401.1" stroke="#666973" stroke-width="1"/>
<line x1="744" y1="422.2" x2="747.3" y2="422.2" stroke="#666973" stroke-width="1"/>
<line x1="744" y1="443.3" x2="747.3" y2="443.3" stroke="#666973" stroke-width="1"/>
<line x1="744" y1="464.4" x2="747.3" y2="464.4" stroke="#666973" stroke-width="1"/>
<line x1="744" y1="485.5" x2="747.3" y2="485.5" stroke="#666973" stroke-width="1"/>
<line x1="744" y1="506.6" x2="747.3" y2="506.6" stroke="#666973" stroke-width="1"/>
<line x1="744" y1="527.7" x2="747.3" y2="527.7" stroke="#666973" stroke-width="1"/>
<line x1="744" y1="548.9" x2="747.3" y2="548.9" stroke="#666973" stroke-width="1"/>
<rect x="745.75" y="196.15" width="25.65" height="9.05" rx="0.7" fill="#10860f"/>
<rect x="745.75" y="243.95" width="25.65" height="9.05" rx="0.7" fill="#10860f"/>
<rect x="745.75" y="311.10" width="25.65" height="9.05" rx="0.7" fill="#060606"/>
<rect x="745.75" y="364.95" width="25.65" height="9.05" rx="0.7" fill="#060606"/>
</svg>
<div class="t" style="left:5.0px;top:2.4px;color:#414141;transform:scaleX(0.785);transform-origin:0 0;">XBRUSD,</div>
<div class="t" style="left:38.8px;top:2.4px;color:#414141;transform:scaleX(0.808);transform-origin:0 0;">Daily:</div>
<div class="t" style="left:62.2px;top:2.4px;color:#414141;transform:scaleX(0.720);transform-origin:0 0;">UK</div>
<div class="t" style="left:73.5px;top:2.4px;color:#414141;transform:scaleX(0.943);transform-origin:0 0;">Brent</div>
<div class="t" style="left:97.3px;top:2.4px;color:#414141;transform:scaleX(0.984);transform-origin:0 0;">(Spot)</div>
<div class="t yl" style="top:16.30px">98.40</div>
<div class="t yl" style="top:37.41px">97.30</div>
<div class="t yl" style="top:58.52px">96.20</div>
<div class="t yl" style="top:79.63px">95.10</div>
<div class="t yl" style="top:100.74px">94.00</div>
<div class="t yl" style="top:121.85px">92.90</div>
<div class="t yl" style="top:142.96px">91.80</div>
<div class="t yl" style="top:164.07px">90.70</div>
<div class="t yl" style="top:185.18px">89.60</div>
<div class="t yl" style="top:206.29px">88.50</div>
<div class="t yl" style="top:227.40px">87.40</div>
<div class="t yl" style="top:248.51px">86.30</div>
<div class="t yl" style="top:269.62px">85.20</div>
<div class="t yl" style="top:290.73px">84.10</div>
<div class="t yl" style="top:311.84px">83.00</div>
<div class="t yl" style="top:332.95px">81.90</div>
<div class="t yl" style="top:354.06px">80.80</div>
<div class="t yl" style="top:375.17px">79.70</div>
<div class="t yl" style="top:396.28px">78.60</div>
<div class="t yl" style="top:417.39px">77.50</div>
<div class="t yl" style="top:438.50px">76.40</div>
<div class="t yl" style="top:459.61px">75.30</div>
<div class="t yl" style="top:480.72px">74.20</div>
<div class="t yl" style="top:501.83px">73.10</div>
<div class="t yl" style="top:522.94px">72.00</div>
<div class="t yl" style="top:544.05px">70.90</div>
<div class="box" style="top:196.18px;"><span>89.00</span></div>
<div class="box" style="top:243.98px;"><span>86.50</span></div>
<div class="box" style="top:311.13px;"><span>83.00</span></div>
<div class="box" style="top:364.98px;"><span>80.20</span></div>
<div class="t" style="left:1.95px;top:572.3px;color:#45484f;transform:scaleX(0.945);transform-origin:0 0;">18 Oct 2022</div>
<div class="t" style="left:85.05px;top:572.3px;color:#45484f;transform:scaleX(0.94);transform-origin:0 0;">9 Nov 2022</div>
<div class="t" style="left:168.15px;top:572.3px;color:#45484f;transform:scaleX(0.935);transform-origin:0 0;">1 Dec 2022</div>
<div class="t" style="left:251.25px;top:572.3px;color:#45484f;transform:scaleX(0.938);transform-origin:0 0;">23 Dec 2022</div>
<div class="t" style="left:334.35px;top:572.3px;color:#45484f;transform:scaleX(0.92);transform-origin:0 0;">18 Jan 2023</div>
<div class="t" style="left:417.45px;top:572.3px;color:#45484f;transform:scaleX(0.925);transform-origin:0 0;">9 Feb 2023</div>
<div class="t" style="left:500.55px;top:572.3px;color:#45484f;transform:scaleX(0.915);transform-origin:0 0;">3 Mar 2023</div>
<div class="t" style="left:583.65px;top:572.3px;color:#45484f;transform:scaleX(0.905);transform-origin:0 0;">27 Mar 2023</div>
<div class="t fb" style="right:197.05px;top:42.70px">161.8</div>
<div class="t fb" style="right:197.05px;top:237.90px">100.0</div>
<div class="t fb" style="right:197.05px;top:358.60px">61.8</div>
<div class="t fb" style="right:197.05px;top:395.80px">50.0</div>
<div class="t fb" style="right:197.05px;top:432.80px">38.2</div>
<div class="t fb" style="right:197.05px;top:478.85px">23.6</div>
</body></html>
